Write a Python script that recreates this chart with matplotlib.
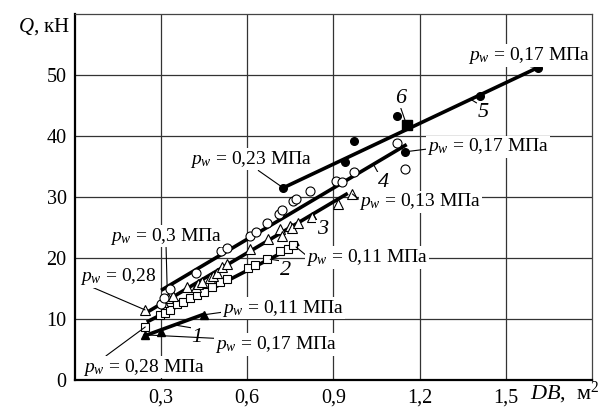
import matplotlib
matplotlib.use("Agg")
import matplotlib.pyplot as plt

plt.rcParams['font.family'] = ['Liberation Serif', 'DejaVu Serif']
plt.rcParams['mathtext.fontset'] = 'custom'
plt.rcParams['mathtext.rm'] = 'Liberation Serif'
plt.rcParams['mathtext.it'] = 'Liberation Serif:italic'

# Series 1 (filled triangles)
x1 = [0.245, 0.30, 0.45]
y1 = [7.4, 7.9, 10.7]
line1_x = [0.24, 0.45]
line1_y = [7.2, 10.8]

# Series 2 (open squares)
x2 = [0.245, 0.297, 0.314, 0.33, 0.355, 0.377, 0.40, 0.425, 0.45, 0.478, 0.505, 0.53,
      0.604, 0.628, 0.67, 0.715, 0.743, 0.76]
y2 = [8.7, 10.7, 11.0, 11.5, 12.4, 12.8, 13.5, 14.0, 14.5, 15.2, 16.0, 16.5,
      18.4, 18.9, 19.8, 21.1, 21.4, 22.2]
line2_x = [0.25, 0.78]
line2_y = [9.5, 22.3]

# Series 3 (open triangles)
x3 = [0.244, 0.307, 0.325, 0.34, 0.39, 0.42, 0.43, 0.443, 0.47, 0.48, 0.495, 0.513, 0.53,
      0.61, 0.673, 0.715, 0.72, 0.75, 0.757, 0.778, 0.827, 0.917, 0.966]
y3 = [11.5, 12.8, 13.5, 13.7, 15.2, 15.3, 15.7, 16.0, 16.8, 17.0, 17.6, 18.5, 19.0,
      21.4, 23.1, 24.7, 23.6, 25.2, 25.0, 25.8, 26.8, 28.8, 30.5]
line3_x = [0.24, 0.95]
line3_y = [10.8, 30.6]

# Series 4 (open circles)
x4 = [0.30, 0.31, 0.33, 0.42, 0.51, 0.53, 0.61, 0.63, 0.67, 0.71, 0.72, 0.76, 0.77,
      0.82, 0.91, 0.93, 0.97, 1.12, 1.15]
y4 = [12.5, 13.5, 15.0, 17.5, 21.2, 21.7, 23.6, 24.2, 25.8, 27.2, 27.8, 29.3, 29.6,
      31.0, 32.6, 32.4, 34.1, 38.9, 34.6]
line4_x = [0.30, 1.155]
line4_y = [14.7, 38.6]

# Series 5 (filled circles on line)
x5 = [0.725, 1.409, 1.611]
y5 = [31.5, 46.6, 51.2]
line5_x = [0.725, 1.611]
line5_y = [31.5, 51.2]

# Scattered filled circles
x6 = [0.94, 0.97, 1.123, 1.148]
y6 = [35.8, 39.2, 43.2, 37.4]
# Series 6 (filled square)
x7 = [1.155]
y7 = [41.8]

xticks = [0.3, 0.6, 0.9, 1.2, 1.5]
xtick_labels = ['0,3', '0,6', '0,9', '1,2', '1,5']
yticks = [0, 10, 20, 30, 40, 50]
ytick_labels = ['0', '10', '20', '30', '40', '50']

fig = plt.figure(figsize=(6.09, 4.07), dpi=100)
ax = fig.add_axes([0.123, 0.0663, 0.849, 0.8993])
ax.set_xlim(0, 1.8)
ax.set_ylim(0, 60)
ax.set_xticks(xticks)
ax.set_xticklabels(xtick_labels)
ax.set_yticks(yticks)
ax.set_yticklabels(ytick_labels)
ax.tick_params(length=0, labelsize=14.5, pad=6)
ax.grid(True, color='#333333', lw=0.9)
ax.set_axisbelow(True)
for s in ['left', 'bottom']:
    ax.spines[s].set_linewidth(1.6)
for s in ['top', 'right']:
    ax.spines[s].set_linewidth(0.9)
    ax.spines[s].set_color('#444444')

lk = dict(color='black', lw=2.6, solid_capstyle='butt', zorder=3)
ax.plot(line1_x, line1_y, **lk)
ax.plot(line2_x, line2_y, **lk)
ax.plot(line3_x, line3_y, **lk)
ax.plot(line4_x, line4_y, **lk)
ax.plot(line5_x, line5_y, **lk)

ax.plot(x1, y1, '^', color='black', ms=6, zorder=4)
ax.plot(x2, y2, 's', mfc='white', mec='black', mew=0.8, ms=6, zorder=4)
ax.plot(x3, y3, '^', mfc='white', mec='black', mew=0.8, ms=6.5, zorder=4)
ax.plot(x4, y4, 'o', mfc='white', mec='black', mew=0.8, ms=6.5, zorder=4)
ax.plot(x5, y5, 'o', color='black', ms=5.5, zorder=4)
ax.plot(x6, y6, 'o', color='black', ms=5.5, zorder=4)
ax.plot(x7, y7, 's', color='black', ms=6.5, zorder=4)

box = dict(facecolor='white', edgecolor='none', pad=0.5)
fs = 14

def lab(txt, xy, xyt, rel, ha='left', size=fs, style='normal'):
    ax.annotate(txt, xy=xy, xytext=xyt, textcoords='data', ha=ha, va='center',
                fontsize=size, fontstyle=style, bbox=box, zorder=6,
                arrowprops=dict(arrowstyle='-', lw=0.8, color='black',
                                relpos=rel, shrinkA=0, shrinkB=0))

pw = r'$p_w$ = '
lab(pw + '0,17 МПа', (x5[2], y5[2]), (1.367, 53.2), (0.33, 0.1))
lab('5', (1.375, 46.1), (1.42, 43.8), (0.0, 1.0), ha='center', size=16, style='italic')
lab('6', (x7[0], y7[0]), (1.134, 46.2), (0.5, 0.0), ha='center', size=16, style='italic')
lab(pw + '0,23 МПа', (x5[0], y5[0]), (0.401, 36.2), (0.55, 0.0))
lab(pw + '0,17 МПа', (x6[3], y6[3]), (1.225, 38.2), (0.0, 0.4))
lab('4', (1.04, 35.3), (1.075, 32.4), (0.0, 1.0), ha='center', size=16, style='italic')
lab(pw + '0,13 МПа', (x3[-1], y3[-1]), (0.99, 29.2), (0.0, 0.6))
lab('3', (0.83, 27.2), (0.862, 24.6), (0.0, 1.0), ha='center', size=16, style='italic')
lab(pw + '0,3 МПа', (0.321, 15.3), (0.122, 23.6), (0.5, 0.0))
lab(pw + '0,11 МПа', (x2[-1] + 0.01, y2[-1] - 0.4), (0.805, 20.1), (0.0, 0.6))
lab('2', (0.68, 19.8), (0.732, 18.0), (0.0, 1.0), ha='center', size=16, style='italic')
lab(pw + '0,28', (x3[0], y3[0]), (0.017, 17.0), (0.15, 0.0))
lab(pw + '0,11 МПа', (x1[2], y1[2]), (0.513, 11.8), (0.0, 0.3))
lab('1', (0.35, 9.0), (0.425, 7.0), (0.0, 1.0), ha='center', size=16, style='italic')
lab(pw + '0,17 МПа', (x1[0], y1[0]), (0.488, 5.8), (0.0, 0.8))
lab(pw + '0,28 МПа', (x2[0], y2[0]), (0.028, 2.1), (0.18, 1.0))

fig.text(70 / 609, 1 - 27 / 407, '$Q$, кН', ha='right', va='center', fontsize=15)
fig.text(530 / 609, 1 - 393 / 407, '$DB$,  м$^2$', ha='left', va='center', fontsize=16)

fig.savefig('out.png', dpi=100)
